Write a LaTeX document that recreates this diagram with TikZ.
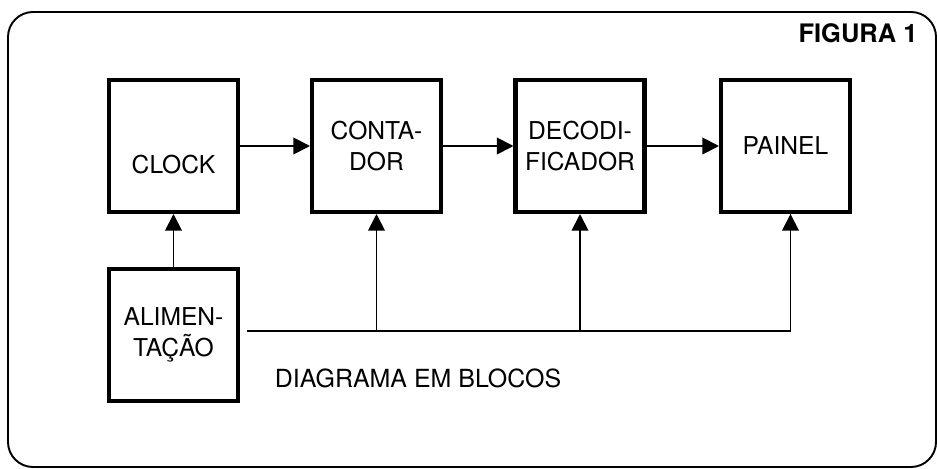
\documentclass[tikz,border=0pt]{standalone}
\usepackage{fontspec}
\setmainfont{TeX Gyre Heros}
\usetikzlibrary{arrows.meta}

\tikzset{
  blk/.style={draw, line width=2.3pt, minimum width=2.58cm, minimum height=2.64cm,
    align=center, inner sep=0pt, font=\fontsize{14}{17.5}\selectfont},
  wire/.style={line width=1.1pt},
  arr/.style={wire, -{Triangle[length=9.5pt,width=9.5pt]}},
}

\begin{document}
\begin{tikzpicture}[x=0.02cm,y=-0.02cm]
\useasboundingbox (0,0) rectangle (937,469);

\draw[line width=1.1pt, rounded corners=0.5cm] (8,12) rectangle (936,467);

\node[font=\fontsize{14.5}{16}\selectfont\bfseries] (fig) at (858,33) {FIGURA 1};

\node[blk, label={[yshift=-0.38cm, font=\fontsize{14}{17.5}\selectfont]center:CLOCK}] (clock) at (173.5,146) {};
\node[blk] (cont) at (376.5,146) {CONTA-\\DOR};
\node[blk] (deco) at (580,146) {DECODI-\\FICADOR};
\node[blk] (pain) at (785.5,146) {PAINEL};
\node[blk] (alim) at (173.5,335) {ALIMEN-\\TAÇÃO};

\node[font=\fontsize{14.2}{16}\selectfont] (tit) at (418,378) {DIAGRAMA EM BLOCOS};

\draw[arr] (clock) -- (cont);
\draw[arr] (cont) -- (deco);
\draw[arr] (deco) -- (pain);
\draw[arr] (alim) -- (clock);

\draw[wire] ([xshift=0.14cm,yshift=0.08cm]alim.east) coordinate (b0) -| ([xshift=0.1cm]pain.south) coordinate (b3);
\draw[arr] (cont.south |- b0) -- (cont.south);
\draw[arr] (deco.south |- b0) -- (deco.south);
\draw[arr] (b0 -| b3) -- (b3);

\end{tikzpicture}
\end{document}
